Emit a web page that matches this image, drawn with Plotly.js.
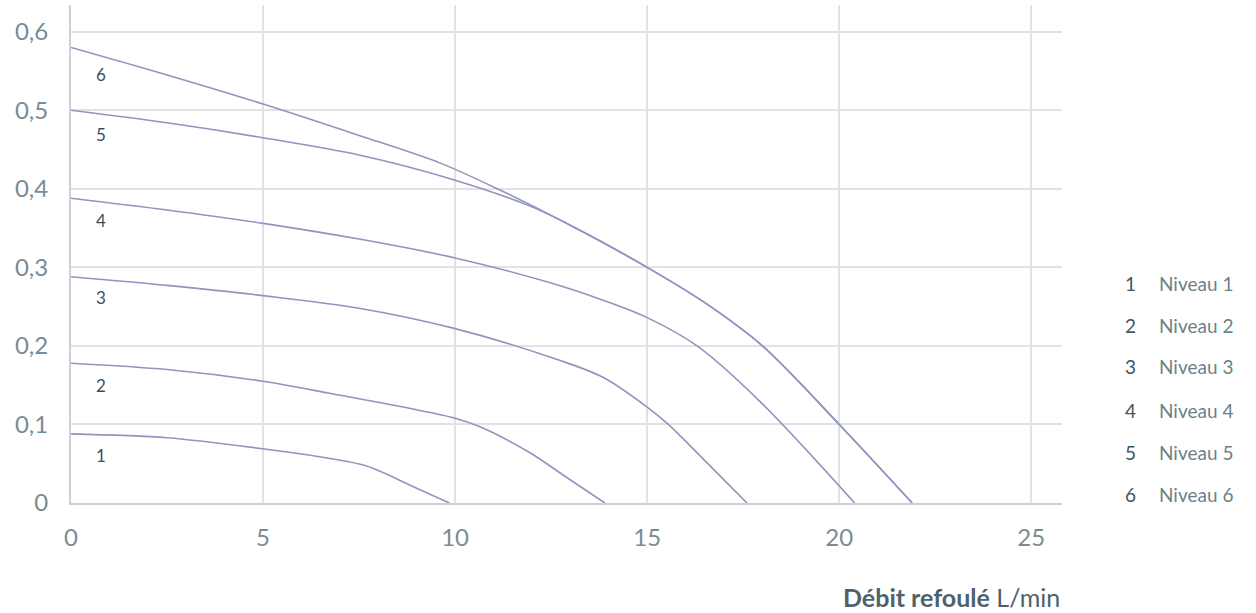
<!DOCTYPE html>
<html>
<head>
<meta charset="utf-8">
<script src="https://cdn.plot.ly/plotly-3.0.1.min.js"></script>
<style>html,body{margin:0;padding:0;background:#fff;}#chart{width:1256px;height:613px;}</style>
</head>
<body>
<div id="chart"></div>
<script>
const levelNames = ["Niveau 1","Niveau 2","Niveau 3","Niveau 4","Niveau 5","Niveau 6"];
const levelNums = ["1","2","3","4","5","6"];

const n1x = [0, 2.5, 5, 6.7, 7.7, 8.9, 9.85];
const n1y = [0.088, 0.083, 0.069, 0.057, 0.047, 0.021, 0];
const n2x = [0, 2.5, 5, 6.7, 10, 10.65, 11.95, 12.8, 13.9];
const n2y = [0.178, 0.170, 0.155, 0.140, 0.108, 0.097, 0.064, 0.036, 0];
const n3x = [0, 2.5, 5, 7.5, 10, 12.7, 13.85, 15, 15.55, 16.56, 17.6];
const n3y = [0.288, 0.277, 0.264, 0.248, 0.222, 0.182, 0.160, 0.122, 0.1, 0.051, 0];
const n4x = [0, 2.5, 5, 7.5, 10, 12.5, 13.8, 15, 16.3, 17.9, 20.4];
const n4y = [0.388, 0.373, 0.356, 0.336, 0.312, 0.280, 0.259, 0.236, 0.2, 0.131, 0];
const n5x = [0, 2.5, 5, 7.5, 10, 12, 13.1, 15, 16.5, 18, 20, 21.9];
const n5y = [0.5, 0.484, 0.465, 0.443, 0.411, 0.377, 0.351, 0.3, 0.255, 0.2, 0.1, 0];
const n6x = [0, 2.5, 5, 7.5, 9.6, 11.1, 13.1, 15, 16.5, 18, 20, 21.9];
const n6y = [0.58, 0.545, 0.508, 0.468, 0.433, 0.4, 0.351, 0.3, 0.255, 0.2, 0.1, 0];

// curve number labels (data coords)
const labelX = [0.78, 0.78, 0.78, 0.78, 0.78, 0.78];
const labelY = [0.061, 0.149, 0.262, 0.36, 0.469, 0.545];

const xTicks = [0, 5, 10, 15, 20, 25];
const yTicks = [0, 0.1, 0.2, 0.3, 0.4, 0.5, 0.6];
const yTickText = ["0", "0,1", "0,2", "0,3", "0,4", "0,5", "0,6"];
const xTitleBold = "Débit refoulé";
const xTitleUnit = "L/min";

const lineColor = "#9094bf";
const xs = [n1x, n2x, n3x, n4x, n5x, n6x];
const ys = [n1y, n2y, n3y, n4y, n5y, n6y];

const traces = xs.map((x, i) => ({
  x: x, y: ys[i], type: "scatter", mode: "lines", name: levelNames[i],
  line: {color: lineColor, width: 1.6, shape: "spline", smoothing: 0.9},
  hoverinfo: "skip"
}));

const FONT = "Lato, 'Open Sans', sans-serif";
// plot area in pixels: x 71..1062, y 5..503
const px = v => (v - 71) / 991;
const py = v => (503 - v) / 498;

const annotations = [];
labelX.forEach((x, i) => {
  annotations.push({x: x, y: labelY[i], xref: "x", yref: "y", text: levelNums[i],
    showarrow: false, font: {family: FONT, size: 17, color: "#3a4f5b"}});
});
const legRows = [283, 325, 367, 410, 452, 494];
levelNames.forEach((n, i) => {
  annotations.push({x: px(1130), y: py(legRows[i]), xref: "paper", yref: "paper", text: levelNums[i],
    showarrow: false, xanchor: "center", yanchor: "middle",
    font: {family: FONT, size: 19, color: "#3f5460"}});
  annotations.push({x: px(1157), y: py(legRows[i]), xref: "paper", yref: "paper", text: n,
    showarrow: false, xanchor: "left", yanchor: "middle",
    font: {family: FONT, size: 19, color: "#6d7f88"}});
});
annotations.push({x: 1, y: py(597), xref: "paper", yref: "paper",
  text: "<b>" + xTitleBold + "</b> " + xTitleUnit, showarrow: false,
  xanchor: "right", yanchor: "middle",
  font: {family: FONT, size: 25, color: "#4d626d"}});

const layout = {
  width: 1256, height: 613,
  margin: {l: 71, r: 194, t: 5, b: 110},
  paper_bgcolor: "#fff", plot_bgcolor: "#fff",
  showlegend: false,
  xaxis: {range: [0, 25.8], tickvals: xTicks, ticktext: xTicks.map(String),
    showgrid: true, gridcolor: "#dfe3e6", gridwidth: 2,
    showline: true, linecolor: "#c9d1d6", linewidth: 2, zeroline: false,
    ticks: "", ticklabelstandoff: 12,
    tickfont: {family: FONT, size: 24, color: "#7a8b94"}},
  yaxis: {range: [0, 0.634], tickvals: yTicks, ticktext: yTickText,
    showgrid: true, gridcolor: "#dfe3e6", gridwidth: 2,
    showline: true, linecolor: "#c9d1d6", linewidth: 2, zeroline: false,
    ticks: "", ticklabelstandoff: 16,
    tickfont: {family: FONT, size: 24, color: "#7a8b94"}},
  annotations: annotations
};

Plotly.newPlot("chart", traces, layout, {staticPlot: true, displayModeBar: false});
</script>
</body>
</html>
